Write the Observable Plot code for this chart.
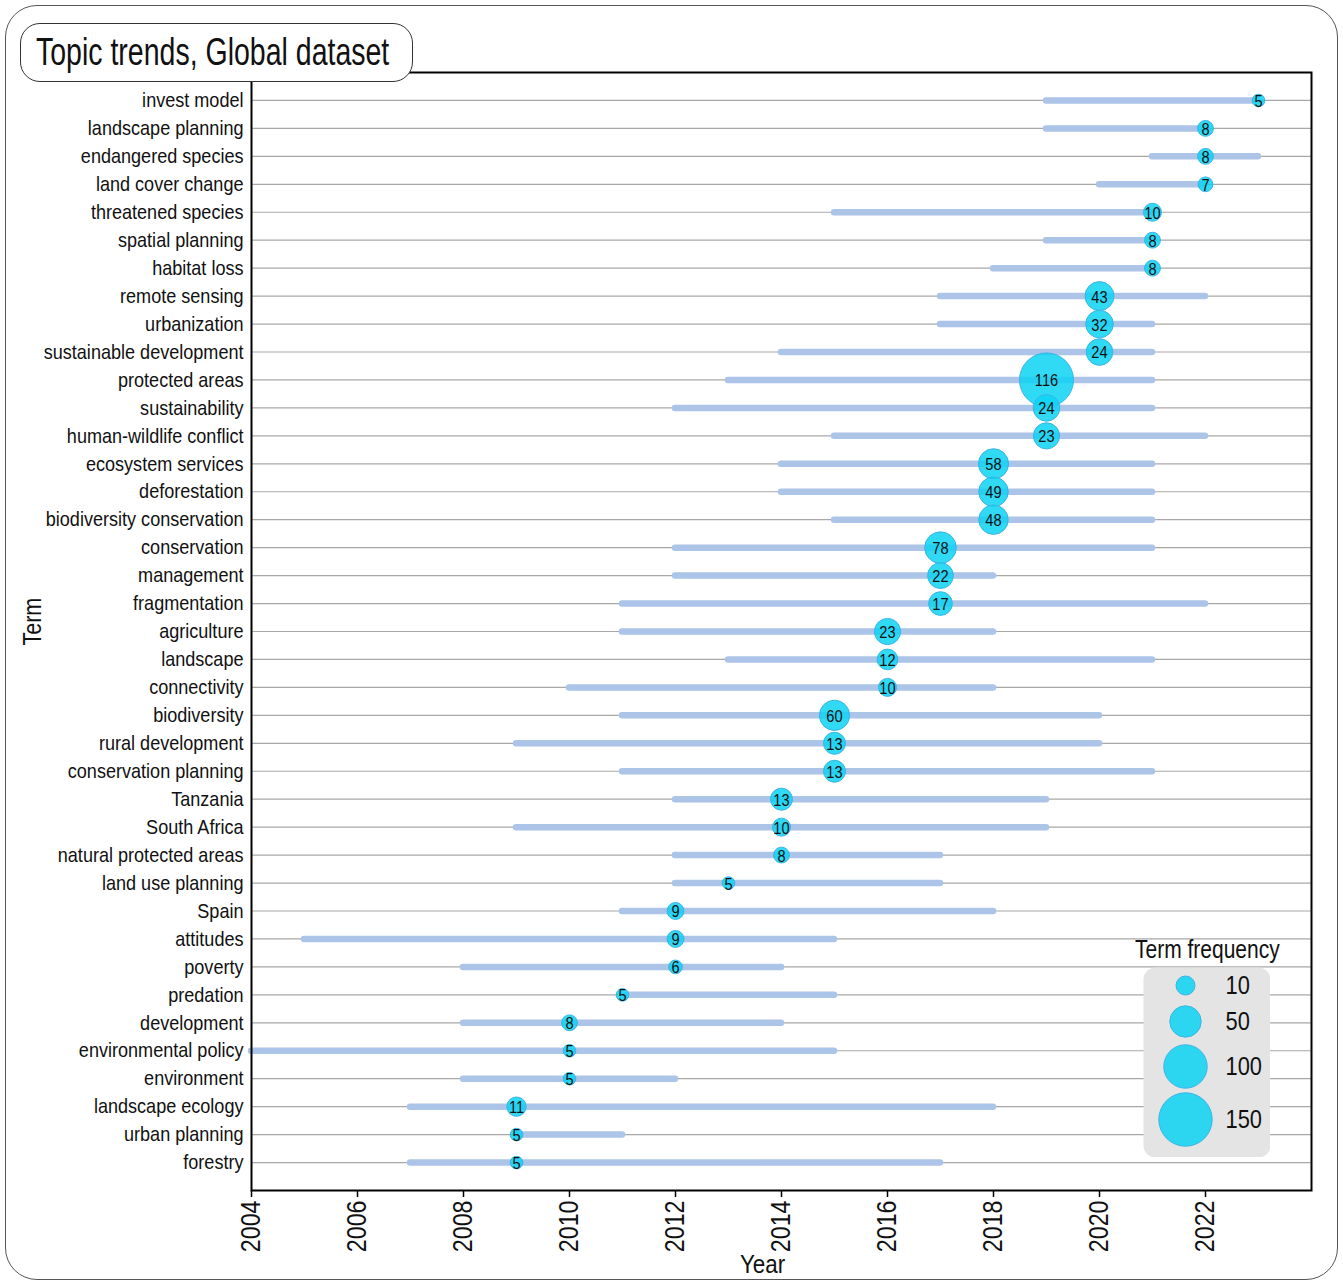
<!DOCTYPE html>
<html>
<head>
<meta charset="utf-8">
<script src="https://cdn.jsdelivr.net/npm/d3@7"></script>
<script src="https://cdn.jsdelivr.net/npm/@observablehq/plot@0.6"></script>
<style>
  html, body { margin: 0; padding: 0; background: white; }
  #wrap { position: relative; width: 1343px; height: 1285px; overflow: hidden; font-family: "Liberation Sans", Arial, sans-serif; }
  #chart { position: absolute; left: 0; top: 0; }
  #outer { position: absolute; left: 5px; top: 5px; width: 1331px; height: 1273px; border: 1.5px solid #555; border-radius: 32px; pointer-events: none; }
  #title { position: absolute; left: 20px; top: 23px; width: 391px; height: 57px; border: 1.5px solid #333; border-radius: 20px; background: white; }
  #title span { position: absolute; left: 15px; top: 7px; font-size: 38px; line-height: 42px; white-space: nowrap; transform: scaleX(0.75); transform-origin: left top; color: #111; }
  #legtitle { position: absolute; left: 1135px; top: 935px; font-size: 25px; line-height: 28px; white-space: nowrap; color: #111; transform: scaleX(0.84); transform-origin: left top; }
  #legend { position: absolute; left: 1143px; top: 967px; }
</style>
</head>
<body>
<div id="wrap">
  <div id="chart"></div>
  <div id="outer"></div>
  <div id="title"><span>Topic trends, Global dataset</span></div>
  <div id="legtitle">Term frequency</div>
  <div id="legend"></div>
</div>
<script>
// ---- data (top to bottom) ----
const terms = [
  "invest model", "landscape planning", "endangered species", "land cover change",
  "threatened species", "spatial planning", "habitat loss", "remote sensing",
  "urbanization", "sustainable development", "protected areas", "sustainability",
  "human-wildlife conflict", "ecosystem services", "deforestation", "biodiversity conservation",
  "conservation", "management", "fragmentation", "agriculture", "landscape", "connectivity",
  "biodiversity", "rural development", "conservation planning", "Tanzania", "South Africa",
  "natural protected areas", "land use planning", "Spain", "attitudes", "poverty", "predation",
  "development", "environmental policy", "environment", "landscape ecology", "urban planning", "forestry"
];
const freq = [5, 8, 8, 7, 10, 8, 8, 43, 32, 24, 116, 24, 23, 58, 49, 48, 78, 22, 17, 23, 12, 10,
  60, 13, 13, 13, 10, 8, 5, 9, 9, 6, 5, 8, 5, 5, 11, 5, 5];
const yearQ1 = [2019, 2019, 2021, 2020, 2015, 2019, 2018, 2017, 2017, 2014, 2013, 2012, 2015, 2014, 2014, 2015,
  2012, 2012, 2011, 2011, 2013, 2010, 2011, 2009, 2011, 2012, 2009, 2012, 2012, 2011, 2005, 2008, 2011,
  2008, 2004, 2008, 2007, 2009, 2007];
const yearMedian = [2023, 2022, 2022, 2022, 2021, 2021, 2021, 2020, 2020, 2020, 2019, 2019, 2019, 2018, 2018, 2018,
  2017, 2017, 2017, 2016, 2016, 2016, 2015, 2015, 2015, 2014, 2014, 2014, 2013, 2012, 2012, 2012, 2011,
  2010, 2010, 2010, 2009, 2009, 2009];
const yearQ3 = [2023, 2022, 2023, 2022, 2021, 2021, 2021, 2022, 2021, 2021, 2021, 2021, 2022, 2021, 2021, 2021,
  2021, 2018, 2022, 2018, 2021, 2018, 2020, 2020, 2021, 2019, 2019, 2017, 2017, 2018, 2015, 2014, 2015,
  2014, 2015, 2012, 2018, 2011, 2017];
const xTicks = [2004, 2006, 2008, 2010, 2012, 2014, 2016, 2018, 2020, 2022];
const legendValues = [10, 50, 100, 150];

const rows = terms.map((t, i) => ({term: t, freq: freq[i], q1: yearQ1[i], med: yearMedian[i], q3: yearQ3[i]}));

const FONT = "'Liberation Sans', Arial, sans-serif";
const BUBBLE_FILL = "#0cd3f3";
const BUBBLE_STROKE = "#3ab4e4";

// compress text horizontally to mimic the condensed typeface of the original
function condense(svg, factor) {
  svg.querySelectorAll("text").forEach(t => {
    const L = t.getComputedTextLength();
    if (L > 0) {
      t.setAttribute("textLength", (L * factor).toFixed(2));
      t.setAttribute("lengthAdjust", "spacingAndGlyphs");
    }
  });
}

const chart = Plot.plot({
  width: 1343,
  height: 1285,
  marginLeft: 251,
  marginTop: 72,
  marginRight: 32,
  marginBottom: 95,
  style: {fontFamily: FONT, background: "white", color: "#111", overflow: "visible"},
  x: {domain: [2004, 2024]},
  y: {type: "point", domain: terms, padding: 1},
  r: {type: "linear", domain: [5, 10, 13, 24, 45, 78, 116], range: [6.3, 9, 11, 13.3, 14.6, 15.8, 27]},
  marks: [
    Plot.ruleY(terms, {y: d => d, stroke: "#a8a8a8", strokeWidth: 1.2}),
    Plot.ruleY(rows, {y: "term", x1: "q1", x2: "q3", stroke: "#abc4e8", strokeWidth: 6.5, strokeLinecap: "round"}),
    Plot.dot(rows, {x: "med", y: "term", r: "freq", fill: BUBBLE_FILL, fillOpacity: 0.85, stroke: BUBBLE_STROKE, strokeWidth: 1}),
    Plot.text(rows, {x: "med", y: "term", text: d => String(d.freq), fontSize: 17, dy: 1, fill: "#111"}),
    Plot.frame({stroke: "black", strokeWidth: 2}),
    Plot.axisY({tickSize: 0, tickPadding: 8, fontSize: 21, label: null}),
    Plot.axisX({ticks: xTicks, tickFormat: d => String(d), tickRotate: -90, tickSize: 7, tickPadding: 3, fontSize: 27, label: null, stroke: "black", strokeWidth: 1.5}),
    Plot.text(["Term"], {text: d => d, frameAnchor: "left", dx: -219, dy: 14, rotate: -90, fontSize: 25, fill: "#111"}),
    Plot.text(["Year"], {text: d => d, frameAnchor: "bottom", dx: -19, dy: 82, fontSize: 26, fill: "#111"})
  ]
});
document.getElementById("chart").appendChild(chart);
condense(chart, 0.86);

const legend = Plot.plot({
  width: 127,
  height: 190,
  margin: 0,
  style: {fontFamily: FONT, background: "transparent", color: "#111"},
  y: {type: "linear", domain: [10, 50, 100, 150], range: [18, 54, 99, 152], axis: null},
  r: {type: "linear", domain: [10, 50, 100, 150], range: [9.5, 15.7, 21.7, 26.7]},
  marks: [
    Plot.frame({fill: "#e4e4e4", stroke: null, rx: 12}),
    Plot.dot(legendValues, {y: d => d, r: d => d, frameAnchor: "left", dx: 42, fill: BUBBLE_FILL, fillOpacity: 0.85, stroke: BUBBLE_STROKE, strokeWidth: 1}),
    Plot.text(legendValues, {y: d => d, text: d => String(d), frameAnchor: "left", dx: 82, textAnchor: "start", fontSize: 26, fill: "#111"})
  ]
});
document.getElementById("legend").appendChild(legend);
condense(legend, 0.84);
</script>
</body>
</html>
